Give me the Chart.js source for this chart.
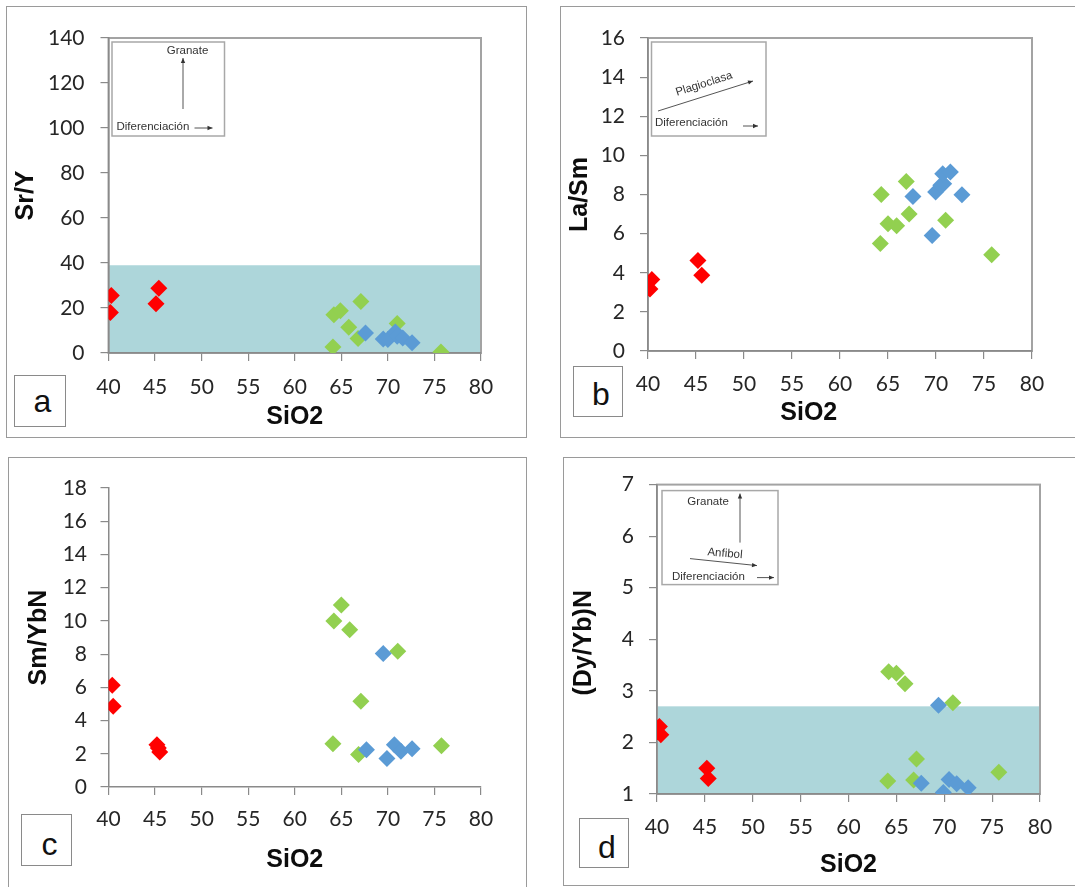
<!DOCTYPE html>
<html>
<head>
<meta charset="utf-8">
<script src="https://cdn.jsdelivr.net/npm/chart.js@4.4.0/dist/chart.umd.min.js"></script>
<style>
  body { margin: 0; background: #fff; width: 1075px; height: 887px; overflow: hidden; position: relative; font-family: "Liberation Sans", Arial, sans-serif; }
  .frame { position: absolute; border: 1px solid #9a9a9a; box-sizing: border-box; }
  canvas { position: absolute; }
  .tag { position: absolute; border: 1px solid #8a8a8a; box-sizing: border-box; background: #fff; font-size: 32px; color: #111; text-align: center; }
</style>
</head>
<body>
<div class="frame" style="left:6px;top:6px;width:521px;height:432px"></div>
<div class="frame" style="left:560px;top:6px;width:530px;height:432px"></div>
<div class="frame" style="left:8px;top:457px;width:519px;height:450px"></div>
<div class="frame" style="left:563px;top:457px;width:530px;height:429px"></div>

<canvas id="chartA" width="520" height="431" style="left:6px;top:6px"></canvas>
<canvas id="chartB" width="515" height="431" style="left:560px;top:6px"></canvas>
<canvas id="chartC" width="518" height="430" style="left:8px;top:457px"></canvas>
<canvas id="chartD" width="512" height="428" style="left:563px;top:457px"></canvas>

<div class="tag" style="left:14px;top:375px;width:52px;height:52px;line-height:50px;padding-left:5px">a</div>
<div class="tag" style="left:573px;top:366px;width:50px;height:51px;line-height:54px;padding-left:6px">b</div>
<div class="tag" style="left:21px;top:814px;width:51px;height:52px;line-height:58px;padding-left:6px">c</div>
<div class="tag" style="left:579px;top:818px;width:50px;height:50px;line-height:56px;padding-left:6px">d</div>

<script>
// SiO2 axis shared by all four diagrams
const sio2Ticks = { min: 40, max: 80, step: 5 };

// a) Sr/Y vs SiO2
const srY_red = [[40.3, 25.6], [40.2, 18.0], [45.4, 28.8], [45.1, 21.9]];
const srY_green = [[64.2, 17.0], [64.9, 18.8], [67.1, 22.9], [65.8, 11.5], [64.1, 2.7], [66.8, 6.4], [71.0, 13.1], [75.7, 0.4]];
const srY_blue = [[67.6, 8.9], [69.5, 6.2], [70.0, 6.0], [70.8, 9.3], [71.0, 7.5], [71.6, 6.7], [72.6, 4.6]];
const srY_band = [0, 39];

// b) La/Sm vs SiO2
const laSm_red = [[40.4, 3.65], [40.2, 3.17], [45.2, 4.63], [45.6, 3.87]];
const laSm_green = [[64.3, 8.0], [65.0, 6.5], [65.9, 6.4], [64.2, 5.5], [66.9, 8.67], [67.2, 7.0], [71.0, 6.68], [75.8, 4.92]];
const laSm_blue = [[67.6, 7.9], [69.6, 5.9], [69.96, 8.13], [70.5, 8.47], [70.8, 8.55], [70.7, 9.06], [71.5, 9.15], [72.7, 7.99]];

// c) Sm/YbN vs SiO2
const smYb_red = [[40.4, 6.12], [40.5, 4.86], [45.2, 2.55], [45.35, 2.35], [45.5, 2.1]];
const smYb_green = [[64.2, 9.99], [65.0, 10.96], [65.9, 9.47], [71.06, 8.17], [67.1, 5.16], [64.1, 2.61], [66.85, 1.95], [75.75, 2.49]];
const smYb_blue = [[69.5, 8.03], [67.7, 2.25], [69.9, 1.71], [70.7, 2.55], [71.4, 2.15], [72.6, 2.31]];

// d) (Dy/Yb)N vs SiO2
const dyYb_red = [[40.25, 2.31], [40.4, 2.15], [45.2, 1.50], [45.35, 1.30]];
const dyYb_green = [[64.2, 3.37], [65.0, 3.34], [65.9, 3.14], [70.9, 2.77], [67.1, 1.68], [64.1, 1.25], [66.8, 1.27], [75.7, 1.42]];
const dyYb_blue = [[69.4, 2.72], [67.6, 1.21], [69.9, 1.03], [70.5, 1.28], [71.3, 1.2], [72.5, 1.12]];
const dyYb_band = [1, 2.7];

const RED = "#ff0000";
const GREEN = "#92d050";
const BLUE = "#5b9bd5";
const TEAL = "#add6da";
const AXIS = "#8a8a8a";

const tickFont = { family: "Lato, 'Open Sans', sans-serif", size: 21 };
const titleFont = { family: "'Liberation Sans', Arial, sans-serif", size: 25, weight: "bold" };
const insetFont = "11.5px 'Liberation Sans', Arial, sans-serif";

function arrowHead(ctx, x, y, angle) {
  ctx.save();
  ctx.translate(x, y);
  ctx.rotate(angle);
  ctx.beginPath();
  ctx.moveTo(0, 0);
  ctx.lineTo(-5, -2.2);
  ctx.lineTo(-5, 2.2);
  ctx.closePath();
  ctx.fill();
  ctx.restore();
}

function arrow(ctx, x1, y1, x2, y2) {
  ctx.beginPath();
  ctx.moveTo(x1, y1);
  ctx.lineTo(x2, y2);
  ctx.stroke();
  arrowHead(ctx, x2, y2, Math.atan2(y2 - y1, x2 - x1));
}

function insetBox(ctx, x, y, w, h) {
  ctx.fillStyle = "#fff";
  ctx.fillRect(x, y, w, h);
  ctx.strokeStyle = "#a8a8a8";
  ctx.lineWidth = 1.5;
  ctx.strokeRect(x, y, w, h);
}

const insets = {
  a(ctx, area) {
    const x0 = area.left, y0 = area.top;
    insetBox(ctx, x0 + 3.5, y0 + 4, 112.5, 94);
    ctx.fillStyle = "#333";
    ctx.strokeStyle = "#555";
    ctx.lineWidth = 1;
    ctx.font = insetFont;
    ctx.textBaseline = "middle";
    ctx.textAlign = "center";
    ctx.fillText("Granate", x0 + 79, y0 + 13);
    arrow(ctx, x0 + 74.5, y0 + 71, x0 + 74.5, y0 + 20);
    ctx.textAlign = "left";
    ctx.fillText("Diferenciación", x0 + 8, y0 + 89);
    arrow(ctx, x0 + 86, y0 + 90, x0 + 104, y0 + 90);
  },
  b(ctx, area) {
    const x0 = area.left, y0 = area.top;
    insetBox(ctx, x0 + 3.5, y0 + 4, 114.5, 94);
    ctx.fillStyle = "#333";
    ctx.strokeStyle = "#555";
    ctx.lineWidth = 1;
    ctx.font = insetFont;
    ctx.textBaseline = "middle";
    arrow(ctx, x0 + 10, y0 + 73, x0 + 105, y0 + 43);
    ctx.save();
    ctx.translate(x0 + 56, y0 + 46);
    ctx.rotate(-17.5 * Math.PI / 180);
    ctx.textAlign = "center";
    ctx.fillText("Plagioclasa", 0, 0);
    ctx.restore();
    ctx.textAlign = "left";
    ctx.fillText("Diferenciación", x0 + 7, y0 + 85);
    arrow(ctx, x0 + 95, y0 + 88, x0 + 110, y0 + 88);
  },
  d(ctx, area) {
    const x0 = area.left, y0 = area.top;
    insetBox(ctx, x0 + 5, y0 + 6, 116, 94);
    ctx.fillStyle = "#333";
    ctx.strokeStyle = "#555";
    ctx.lineWidth = 1;
    ctx.font = insetFont;
    ctx.textBaseline = "middle";
    ctx.textAlign = "center";
    ctx.fillText("Granate", x0 + 51, y0 + 17);
    arrow(ctx, x0 + 83, y0 + 58, x0 + 83, y0 + 9);
    ctx.save();
    ctx.translate(x0 + 68, y0 + 69);
    ctx.rotate(5 * Math.PI / 180);
    ctx.fillText("Anfibol", 0, 0);
    ctx.restore();
    arrow(ctx, x0 + 33, y0 + 74, x0 + 100, y0 + 81);
    ctx.textAlign = "left";
    ctx.fillText("Diferenciación", x0 + 15, y0 + 92);
    arrow(ctx, x0 + 100, y0 + 93, x0 + 117, y0 + 93);
  },
};

const panelPlugin = {
  id: "panel",
  beforeDraw(chart, args, opts) {
    const { ctx, chartArea: area, scales } = chart;
    ctx.save();
    if (opts.bandHi !== undefined) {
      const top = scales.y.getPixelForValue(opts.bandHi);
      const bottom = scales.y.getPixelForValue(opts.bandLo);
      ctx.fillStyle = TEAL;
      ctx.fillRect(area.left, top, area.right - area.left, bottom - top);
    }
    if (opts.box) {
      ctx.strokeStyle = "#a3a3a3";
      ctx.lineWidth = 2;
      ctx.strokeRect(area.left, area.top, area.right - area.left, area.bottom - area.top);
    }
    ctx.restore();
  },
  afterDraw(chart, args, opts) {
    if (opts.inset && insets[opts.inset]) {
      chart.ctx.save();
      insets[opts.inset](chart.ctx, chart.chartArea);
      chart.ctx.restore();
    }
  },
};

function toPoints(arr) {
  return arr.map((p) => ({ x: p[0], y: p[1] }));
}

function series(data, color, order) {
  return {
    data: toPoints(data),
    backgroundColor: color,
    borderColor: color,
    borderWidth: 0,
    pointStyle: "rectRot",
    pointRadius: 8.5,
    order: order,
  };
}

function makePanel(id, p) {
  return new Chart(document.getElementById(id), {
    type: "scatter",
    data: {
      datasets: [series(p.red, RED, 3), series(p.green, GREEN, 2), series(p.blue, BLUE, 1)],
    },
    options: {
      responsive: false,
      animation: false,
      events: [],
      layout: { padding: { top: p.padTop, right: p.padRight, left: 0, bottom: 0 } },
      plugins: {
        legend: { display: false },
        tooltip: { enabled: false },
        panel: { bandLo: p.band ? p.band[0] : undefined, bandHi: p.band ? p.band[1] : undefined, box: p.box, inset: p.inset },
      },
      scales: {
        x: {
          type: "linear",
          min: sio2Ticks.min,
          max: sio2Ticks.max,
          ticks: { stepSize: sio2Ticks.step, font: tickFont, color: "#262626", padding: p.xTickPad, maxRotation: 0 },
          grid: { drawOnChartArea: false, drawTicks: true, tickLength: 8, color: AXIS, lineWidth: 1.2 },
          border: { color: AXIS, width: 1.5 },
          title: { display: true, text: p.xTitle || "SiO2", font: titleFont, color: "#0d0d0d", padding: { top: 0, bottom: p.xTitlePad } },
          afterFit: (scale) => { scale.height = p.xH; },
        },
        y: {
          type: "linear",
          min: p.yMin,
          max: p.yMax,
          ticks: { stepSize: p.yStep, font: tickFont, color: "#262626", padding: p.yTickPad },
          grid: { drawOnChartArea: false, drawTicks: true, tickLength: 8, color: AXIS, lineWidth: 1.2 },
          border: { color: AXIS, width: 1.5 },
          title: { display: true, text: p.yTitle, font: titleFont, color: "#0d0d0d", padding: { top: p.yTitlePad, bottom: 0 } },
          afterFit: (scale) => { scale.width = p.yW; },
        },
      },
    },
    plugins: [panelPlugin],
  });
}

Chart.defaults.font.family = "Lato, sans-serif";

makePanel("chartA", {
  red: srY_red, green: srY_green, blue: srY_blue,
  yMin: 0, yMax: 140, yStep: 20, yTitle: "Sr/Y",
  band: srY_band, box: true, inset: "a",
  padTop: 32, padRight: 45, yW: 102.5, xH: 84,
  yTickPad: 16, xTickPad: 14, yTitlePad: 5, xTitlePad: 5,
});

makePanel("chartB", {
  red: laSm_red, green: laSm_green, blue: laSm_blue,
  yMin: 0, yMax: 16, yStep: 2, yTitle: "La/Sm",
  box: true, inset: "b",
  // title sits left of the axis centre in the original
  xTitle: "SiO2\u00a0\u00a0\u00a0\u00a0\u00a0\u00a0\u00a0\u00a0\u00a0",
  padTop: 32, padRight: 43, yW: 88, xH: 86,
  yTickPad: 15, xTickPad: 13, yTitlePad: 5, xTitlePad: 9,
});

makePanel("chartC", {
  red: smYb_red, green: smYb_green, blue: smYb_blue,
  yMin: 0, yMax: 18, yStep: 2, yTitle: "Sm/YbN",
  box: false,
  padTop: 31, padRight: 45, yW: 100.5, xH: 100,
  yTickPad: 13.5, xTickPad: 12, yTitlePad: 16.5, xTitlePad: 12,
});

makePanel("chartD", {
  red: dyYb_red, green: dyYb_green, blue: dyYb_blue,
  yMin: 1, yMax: 7, yStep: 1, yTitle: "(Dy/Yb)N\u00a0",
  band: dyYb_band, box: true, inset: "d",
  padTop: 20, padRight: 35, yW: 94, xH: 91,
  yTickPad: 15, xTickPad: 13, yTitlePad: 6, xTitlePad: 5,
});
</script>
</body>
</html>
